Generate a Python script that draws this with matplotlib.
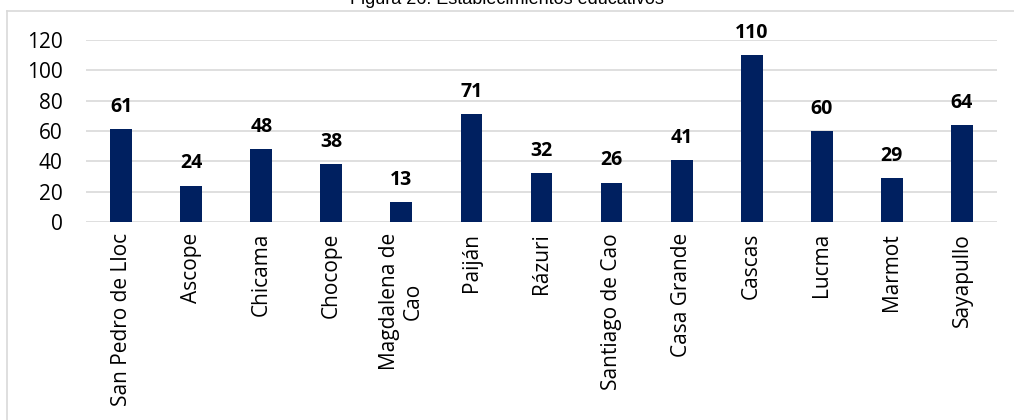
import matplotlib.pyplot as plt
from matplotlib.lines import Line2D
import numpy as np

plt.rcParams.update({'font.family': ['Open Sans', 'DejaVu Sans'],
                     'font.size': 15})

distritos = ['San Pedro de Lloc', 'Ascope', 'Chicama', 'Chocope',
             'Magdalena de\nCao', 'Paiján', 'Rázuri', 'Santiago de Cao',
             'Casa Grande', 'Cascas', 'Lucma', 'Marmot', 'Sayapullo']
establecimientos = [61, 24, 48, 38, 13, 71, 32, 26, 41, 110, 60, 29, 64]
yticks = [0, 20, 40, 60, 80, 100, 120]

navy = '#002060'
grid_gray = '#d9d9d9'

fig = plt.figure(figsize=(10.14, 4.2), dpi=100)
ax = fig.add_axes([86/1014, 1 - 222/420, (997 - 86)/1014, (222 - 40)/420])

x = np.arange(len(distritos))
ax.bar(x, establecimientos, width=0.31, color=navy, zorder=3)
for xi, v in zip(x, establecimientos):
    ax.text(xi, v + 8, str(v), ha='center', va='bottom',
            fontsize=14, fontweight='bold', color='black')

ax.set_xlim(-0.5, len(distritos) - 0.5)
ax.set_ylim(0, 120)
ax.set_yticks(yticks)
ax.yaxis.grid(True, color=grid_gray, linewidth=1.2, zorder=0)
ax.set_xticks(x)
ax.set_xticklabels(distritos, rotation=90, ha='center', va='top',
                   multialignment='center', linespacing=1.15)
ax.tick_params(axis='x', length=0, pad=8)
ax.tick_params(axis='y', length=0, pad=17)
for s in ax.spines.values():
    s.set_visible(False)

# outer chart border (top and left edges)
fig.add_artist(Line2D([7/1014, 7/1014], [0, 1 - 11/420],
                      transform=fig.transFigure, color=grid_gray, lw=1.2))
fig.add_artist(Line2D([7/1014, 1], [1 - 11/420, 1 - 11/420],
                      transform=fig.transFigure, color=grid_gray, lw=1.2))

fig.text(0.5, 1 - 4/420, 'Figura 26: Establecimientos educativos',
         ha='center', va='baseline', fontsize=13,
         family=['Liberation Sans', 'DejaVu Sans'], color='black')

fig.savefig('out.png', dpi=100)
